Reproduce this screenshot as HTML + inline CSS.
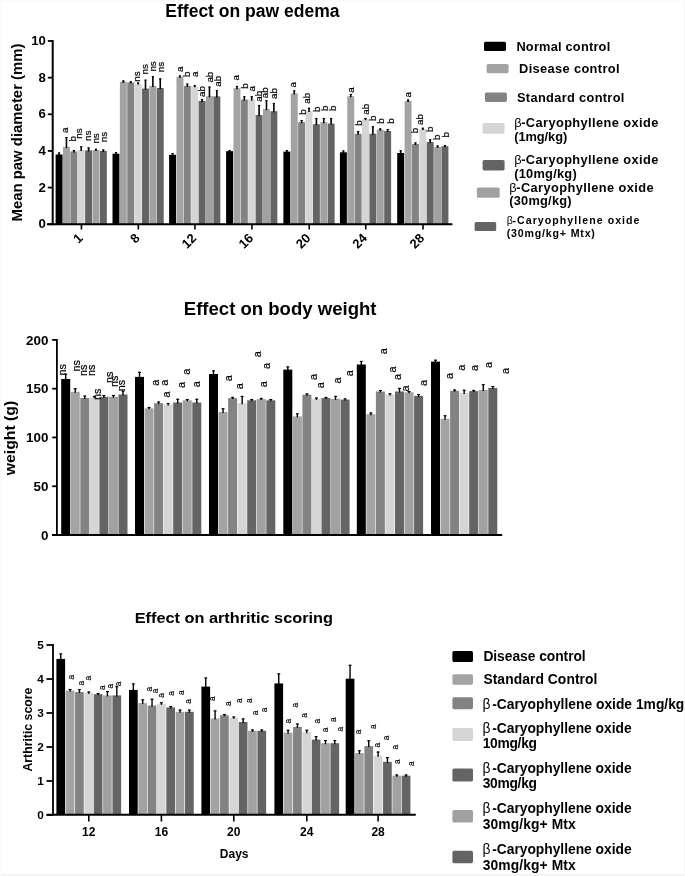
<!DOCTYPE html>
<html><head><meta charset="utf-8"><title>Charts</title>
<style>
html,body{margin:0;padding:0;background:#fff;}
body{width:685px;height:876px;overflow:hidden;position:relative;}
svg{display:block;filter:blur(0.45px);position:absolute;left:0;top:0;}
text{font-family:"Liberation Sans", sans-serif;fill:#000;}
</style></head>
<body>
<svg width="685" height="876" viewBox="0 0 685 876">
<rect x="0" y="0" width="685" height="876" fill="#fff"/>
<rect x="0" y="873.6" width="685" height="2.4" fill="#f4f4f4"/>
<rect x="0" y="0" width="1.6" height="876" fill="#f9f9f9"/>
<rect x="0" y="0" width="685" height="1.5" fill="#fafafa"/>
<rect x="683.6" y="0" width="1.4" height="876" fill="#f7f7f7"/>
<rect x="55.60" y="154.50" width="6.95" height="69.70" fill="#000000"/>
<rect x="62.98" y="146.90" width="6.95" height="77.30" fill="#a3a3a3"/>
<rect x="70.36" y="151.40" width="6.95" height="72.80" fill="#838383"/>
<rect x="77.74" y="150.00" width="6.95" height="74.20" fill="#d5d5d5"/>
<rect x="85.12" y="150.40" width="6.95" height="73.80" fill="#646464"/>
<rect x="92.50" y="150.00" width="6.95" height="74.20" fill="#a1a1a1"/>
<rect x="99.88" y="151.00" width="6.95" height="73.20" fill="#646464"/>
<rect x="112.50" y="153.70" width="6.95" height="70.50" fill="#000000"/>
<rect x="119.88" y="81.80" width="6.95" height="142.40" fill="#a3a3a3"/>
<rect x="127.26" y="82.50" width="6.95" height="141.70" fill="#838383"/>
<rect x="134.64" y="83.60" width="6.95" height="140.60" fill="#d5d5d5"/>
<rect x="142.02" y="88.60" width="6.95" height="135.60" fill="#646464"/>
<rect x="149.40" y="85.90" width="6.95" height="138.30" fill="#a1a1a1"/>
<rect x="156.78" y="88.00" width="6.95" height="136.20" fill="#646464"/>
<rect x="169.10" y="154.80" width="6.95" height="69.40" fill="#000000"/>
<rect x="176.48" y="76.70" width="6.95" height="147.50" fill="#a3a3a3"/>
<rect x="183.86" y="85.90" width="6.95" height="138.30" fill="#838383"/>
<rect x="191.24" y="86.30" width="6.95" height="137.90" fill="#d5d5d5"/>
<rect x="198.62" y="101.00" width="6.95" height="123.20" fill="#646464"/>
<rect x="206.00" y="96.20" width="6.95" height="128.00" fill="#a1a1a1"/>
<rect x="213.38" y="96.40" width="6.95" height="127.80" fill="#646464"/>
<rect x="226.10" y="151.20" width="6.95" height="73.00" fill="#000000"/>
<rect x="233.48" y="88.20" width="6.95" height="136.00" fill="#a3a3a3"/>
<rect x="240.86" y="99.60" width="6.95" height="124.60" fill="#838383"/>
<rect x="248.24" y="99.60" width="6.95" height="124.60" fill="#d5d5d5"/>
<rect x="255.62" y="115.00" width="6.95" height="109.20" fill="#646464"/>
<rect x="263.00" y="109.20" width="6.95" height="115.00" fill="#a1a1a1"/>
<rect x="270.38" y="111.20" width="6.95" height="113.00" fill="#646464"/>
<rect x="283.40" y="151.60" width="6.95" height="72.60" fill="#000000"/>
<rect x="290.78" y="93.40" width="6.95" height="130.80" fill="#a3a3a3"/>
<rect x="298.16" y="122.20" width="6.95" height="102.00" fill="#838383"/>
<rect x="305.54" y="111.00" width="6.95" height="113.20" fill="#d5d5d5"/>
<rect x="312.92" y="124.20" width="6.95" height="100.00" fill="#646464"/>
<rect x="320.30" y="122.20" width="6.95" height="102.00" fill="#a1a1a1"/>
<rect x="327.68" y="123.60" width="6.95" height="100.60" fill="#646464"/>
<rect x="339.90" y="152.30" width="6.95" height="71.90" fill="#000000"/>
<rect x="347.28" y="96.20" width="6.95" height="128.00" fill="#a3a3a3"/>
<rect x="354.66" y="133.80" width="6.95" height="90.40" fill="#838383"/>
<rect x="362.04" y="119.20" width="6.95" height="105.00" fill="#d5d5d5"/>
<rect x="369.42" y="133.80" width="6.95" height="90.40" fill="#646464"/>
<rect x="376.80" y="129.70" width="6.95" height="94.50" fill="#a1a1a1"/>
<rect x="384.18" y="131.00" width="6.95" height="93.20" fill="#646464"/>
<rect x="397.20" y="153.00" width="6.95" height="71.20" fill="#000000"/>
<rect x="404.58" y="101.00" width="6.95" height="123.20" fill="#a3a3a3"/>
<rect x="411.96" y="144.00" width="6.95" height="80.20" fill="#838383"/>
<rect x="419.34" y="129.00" width="6.95" height="95.20" fill="#d5d5d5"/>
<rect x="426.72" y="142.00" width="6.95" height="82.20" fill="#646464"/>
<rect x="434.10" y="146.80" width="6.95" height="77.40" fill="#a1a1a1"/>
<rect x="441.48" y="146.20" width="6.95" height="78.00" fill="#646464"/>
<line x1="59.08" y1="155.50" x2="59.08" y2="152.50" stroke="#000" stroke-width="1.6"/>
<line x1="57.98" y1="153.00" x2="60.18" y2="153.00" stroke="#000" stroke-width="1.1"/>
<line x1="66.45" y1="147.90" x2="66.45" y2="137.00" stroke="#000" stroke-width="1.6"/>
<line x1="65.36" y1="137.50" x2="67.55" y2="137.50" stroke="#000" stroke-width="1.1"/>
<line x1="73.83" y1="152.40" x2="73.83" y2="150.00" stroke="#000" stroke-width="1.6"/>
<line x1="72.73" y1="150.50" x2="74.93" y2="150.50" stroke="#000" stroke-width="1.1"/>
<line x1="81.22" y1="151.00" x2="81.22" y2="146.30" stroke="#000" stroke-width="1.6"/>
<line x1="80.12" y1="146.80" x2="82.31" y2="146.80" stroke="#000" stroke-width="1.1"/>
<line x1="88.59" y1="151.40" x2="88.59" y2="147.50" stroke="#000" stroke-width="1.6"/>
<line x1="87.50" y1="148.00" x2="89.69" y2="148.00" stroke="#000" stroke-width="1.1"/>
<line x1="95.97" y1="151.00" x2="95.97" y2="148.80" stroke="#000" stroke-width="1.6"/>
<line x1="94.88" y1="149.30" x2="97.07" y2="149.30" stroke="#000" stroke-width="1.1"/>
<line x1="103.35" y1="152.00" x2="103.35" y2="149.50" stroke="#000" stroke-width="1.6"/>
<line x1="102.25" y1="150.00" x2="104.45" y2="150.00" stroke="#000" stroke-width="1.1"/>
<line x1="115.97" y1="154.70" x2="115.97" y2="152.00" stroke="#000" stroke-width="1.6"/>
<line x1="114.88" y1="152.50" x2="117.07" y2="152.50" stroke="#000" stroke-width="1.1"/>
<line x1="123.35" y1="82.80" x2="123.35" y2="80.50" stroke="#000" stroke-width="1.6"/>
<line x1="122.25" y1="81.00" x2="124.45" y2="81.00" stroke="#000" stroke-width="1.1"/>
<line x1="130.74" y1="83.50" x2="130.74" y2="81.30" stroke="#000" stroke-width="1.6"/>
<line x1="129.64" y1="81.80" x2="131.84" y2="81.80" stroke="#000" stroke-width="1.1"/>
<line x1="138.11" y1="84.60" x2="138.11" y2="82.40" stroke="#000" stroke-width="1.6"/>
<line x1="137.01" y1="82.90" x2="139.21" y2="82.90" stroke="#000" stroke-width="1.1"/>
<line x1="145.50" y1="89.60" x2="145.50" y2="79.70" stroke="#000" stroke-width="1.6"/>
<line x1="144.40" y1="80.20" x2="146.59" y2="80.20" stroke="#000" stroke-width="1.1"/>
<line x1="152.88" y1="86.90" x2="152.88" y2="76.30" stroke="#000" stroke-width="1.6"/>
<line x1="151.78" y1="76.80" x2="153.97" y2="76.80" stroke="#000" stroke-width="1.1"/>
<line x1="160.25" y1="89.00" x2="160.25" y2="78.40" stroke="#000" stroke-width="1.6"/>
<line x1="159.16" y1="78.90" x2="161.35" y2="78.90" stroke="#000" stroke-width="1.1"/>
<line x1="172.57" y1="155.80" x2="172.57" y2="153.00" stroke="#000" stroke-width="1.6"/>
<line x1="171.47" y1="153.50" x2="173.67" y2="153.50" stroke="#000" stroke-width="1.1"/>
<line x1="179.95" y1="77.70" x2="179.95" y2="75.50" stroke="#000" stroke-width="1.6"/>
<line x1="178.85" y1="76.00" x2="181.05" y2="76.00" stroke="#000" stroke-width="1.1"/>
<line x1="187.33" y1="86.90" x2="187.33" y2="83.60" stroke="#000" stroke-width="1.6"/>
<line x1="186.23" y1="84.10" x2="188.43" y2="84.10" stroke="#000" stroke-width="1.1"/>
<line x1="194.72" y1="87.30" x2="194.72" y2="85.00" stroke="#000" stroke-width="1.6"/>
<line x1="193.62" y1="85.50" x2="195.81" y2="85.50" stroke="#000" stroke-width="1.1"/>
<line x1="202.09" y1="102.00" x2="202.09" y2="99.00" stroke="#000" stroke-width="1.6"/>
<line x1="201.00" y1="99.50" x2="203.19" y2="99.50" stroke="#000" stroke-width="1.1"/>
<line x1="209.47" y1="97.20" x2="209.47" y2="86.60" stroke="#000" stroke-width="1.6"/>
<line x1="208.38" y1="87.10" x2="210.57" y2="87.10" stroke="#000" stroke-width="1.1"/>
<line x1="216.85" y1="97.40" x2="216.85" y2="90.00" stroke="#000" stroke-width="1.6"/>
<line x1="215.75" y1="90.50" x2="217.95" y2="90.50" stroke="#000" stroke-width="1.1"/>
<line x1="229.57" y1="152.20" x2="229.57" y2="150.00" stroke="#000" stroke-width="1.6"/>
<line x1="228.47" y1="150.50" x2="230.67" y2="150.50" stroke="#000" stroke-width="1.1"/>
<line x1="236.95" y1="89.20" x2="236.95" y2="85.90" stroke="#000" stroke-width="1.6"/>
<line x1="235.85" y1="86.40" x2="238.05" y2="86.40" stroke="#000" stroke-width="1.1"/>
<line x1="244.33" y1="100.60" x2="244.33" y2="96.20" stroke="#000" stroke-width="1.6"/>
<line x1="243.23" y1="96.70" x2="245.43" y2="96.70" stroke="#000" stroke-width="1.1"/>
<line x1="251.72" y1="100.60" x2="251.72" y2="96.20" stroke="#000" stroke-width="1.6"/>
<line x1="250.62" y1="96.70" x2="252.81" y2="96.70" stroke="#000" stroke-width="1.1"/>
<line x1="259.10" y1="116.00" x2="259.10" y2="105.00" stroke="#000" stroke-width="1.6"/>
<line x1="258.00" y1="105.50" x2="260.20" y2="105.50" stroke="#000" stroke-width="1.1"/>
<line x1="266.48" y1="110.20" x2="266.48" y2="100.30" stroke="#000" stroke-width="1.6"/>
<line x1="265.38" y1="100.80" x2="267.58" y2="100.80" stroke="#000" stroke-width="1.1"/>
<line x1="273.86" y1="112.20" x2="273.86" y2="103.00" stroke="#000" stroke-width="1.6"/>
<line x1="272.75" y1="103.50" x2="274.96" y2="103.50" stroke="#000" stroke-width="1.1"/>
<line x1="286.88" y1="152.60" x2="286.88" y2="150.00" stroke="#000" stroke-width="1.6"/>
<line x1="285.77" y1="150.50" x2="287.98" y2="150.50" stroke="#000" stroke-width="1.1"/>
<line x1="294.25" y1="94.40" x2="294.25" y2="90.40" stroke="#000" stroke-width="1.6"/>
<line x1="293.15" y1="90.90" x2="295.36" y2="90.90" stroke="#000" stroke-width="1.1"/>
<line x1="301.63" y1="123.20" x2="301.63" y2="120.00" stroke="#000" stroke-width="1.6"/>
<line x1="300.53" y1="120.50" x2="302.74" y2="120.50" stroke="#000" stroke-width="1.1"/>
<line x1="309.01" y1="112.00" x2="309.01" y2="107.80" stroke="#000" stroke-width="1.6"/>
<line x1="307.91" y1="108.30" x2="310.12" y2="108.30" stroke="#000" stroke-width="1.1"/>
<line x1="316.39" y1="125.20" x2="316.39" y2="118.00" stroke="#000" stroke-width="1.6"/>
<line x1="315.29" y1="118.50" x2="317.50" y2="118.50" stroke="#000" stroke-width="1.1"/>
<line x1="323.77" y1="123.20" x2="323.77" y2="118.00" stroke="#000" stroke-width="1.6"/>
<line x1="322.67" y1="118.50" x2="324.88" y2="118.50" stroke="#000" stroke-width="1.1"/>
<line x1="331.15" y1="124.60" x2="331.15" y2="118.00" stroke="#000" stroke-width="1.6"/>
<line x1="330.05" y1="118.50" x2="332.25" y2="118.50" stroke="#000" stroke-width="1.1"/>
<line x1="343.38" y1="153.30" x2="343.38" y2="150.50" stroke="#000" stroke-width="1.6"/>
<line x1="342.27" y1="151.00" x2="344.48" y2="151.00" stroke="#000" stroke-width="1.1"/>
<line x1="350.75" y1="97.20" x2="350.75" y2="94.00" stroke="#000" stroke-width="1.6"/>
<line x1="349.65" y1="94.50" x2="351.86" y2="94.50" stroke="#000" stroke-width="1.1"/>
<line x1="358.13" y1="134.80" x2="358.13" y2="131.00" stroke="#000" stroke-width="1.6"/>
<line x1="357.03" y1="131.50" x2="359.24" y2="131.50" stroke="#000" stroke-width="1.1"/>
<line x1="365.51" y1="120.20" x2="365.51" y2="118.00" stroke="#000" stroke-width="1.6"/>
<line x1="364.41" y1="118.50" x2="366.62" y2="118.50" stroke="#000" stroke-width="1.1"/>
<line x1="372.89" y1="134.80" x2="372.89" y2="126.30" stroke="#000" stroke-width="1.6"/>
<line x1="371.79" y1="126.80" x2="374.00" y2="126.80" stroke="#000" stroke-width="1.1"/>
<line x1="380.27" y1="130.70" x2="380.27" y2="128.40" stroke="#000" stroke-width="1.6"/>
<line x1="379.17" y1="128.90" x2="381.38" y2="128.90" stroke="#000" stroke-width="1.1"/>
<line x1="387.65" y1="132.00" x2="387.65" y2="129.00" stroke="#000" stroke-width="1.6"/>
<line x1="386.55" y1="129.50" x2="388.75" y2="129.50" stroke="#000" stroke-width="1.1"/>
<line x1="400.68" y1="154.00" x2="400.68" y2="150.30" stroke="#000" stroke-width="1.6"/>
<line x1="399.57" y1="150.80" x2="401.78" y2="150.80" stroke="#000" stroke-width="1.1"/>
<line x1="408.06" y1="102.00" x2="408.06" y2="99.50" stroke="#000" stroke-width="1.6"/>
<line x1="406.95" y1="100.00" x2="409.16" y2="100.00" stroke="#000" stroke-width="1.1"/>
<line x1="415.44" y1="145.00" x2="415.44" y2="142.50" stroke="#000" stroke-width="1.6"/>
<line x1="414.33" y1="143.00" x2="416.54" y2="143.00" stroke="#000" stroke-width="1.1"/>
<line x1="422.81" y1="130.00" x2="422.81" y2="127.80" stroke="#000" stroke-width="1.6"/>
<line x1="421.71" y1="128.30" x2="423.92" y2="128.30" stroke="#000" stroke-width="1.1"/>
<line x1="430.19" y1="143.00" x2="430.19" y2="139.30" stroke="#000" stroke-width="1.6"/>
<line x1="429.09" y1="139.80" x2="431.30" y2="139.80" stroke="#000" stroke-width="1.1"/>
<line x1="437.57" y1="147.80" x2="437.57" y2="145.50" stroke="#000" stroke-width="1.6"/>
<line x1="436.47" y1="146.00" x2="438.68" y2="146.00" stroke="#000" stroke-width="1.1"/>
<line x1="444.96" y1="147.20" x2="444.96" y2="145.00" stroke="#000" stroke-width="1.6"/>
<line x1="443.86" y1="145.50" x2="446.06" y2="145.50" stroke="#000" stroke-width="1.1"/>
<line x1="52.7" y1="40" x2="52.7" y2="225.2" stroke="#000" stroke-width="2"/>
<line x1="47" y1="224.2" x2="452.4" y2="224.2" stroke="#000" stroke-width="2"/>
<line x1="47.8" y1="224.20" x2="52.7" y2="224.20" stroke="#000" stroke-width="1.8"/>
<text x="45.8" y="228.40" font-size="13.2" font-weight="bold" text-anchor="end">0</text>
<line x1="47.8" y1="187.56" x2="52.7" y2="187.56" stroke="#000" stroke-width="1.8"/>
<text x="45.8" y="191.76" font-size="13.2" font-weight="bold" text-anchor="end">2</text>
<line x1="47.8" y1="150.92" x2="52.7" y2="150.92" stroke="#000" stroke-width="1.8"/>
<text x="45.8" y="155.12" font-size="13.2" font-weight="bold" text-anchor="end">4</text>
<line x1="47.8" y1="114.28" x2="52.7" y2="114.28" stroke="#000" stroke-width="1.8"/>
<text x="45.8" y="118.48" font-size="13.2" font-weight="bold" text-anchor="end">6</text>
<line x1="47.8" y1="77.64" x2="52.7" y2="77.64" stroke="#000" stroke-width="1.8"/>
<text x="45.8" y="81.84" font-size="13.2" font-weight="bold" text-anchor="end">8</text>
<line x1="47.8" y1="41.00" x2="52.7" y2="41.00" stroke="#000" stroke-width="1.8"/>
<text x="45.8" y="45.20" font-size="13.2" font-weight="bold" text-anchor="end">10</text>
<line x1="81.43" y1="224.2" x2="81.43" y2="229.5" stroke="#000" stroke-width="1.6"/>
<text transform="translate(83.63,238.90) rotate(-45)" font-size="13" font-weight="bold" text-anchor="end">1</text>
<line x1="138.33" y1="224.2" x2="138.33" y2="229.5" stroke="#000" stroke-width="1.6"/>
<text transform="translate(140.53,238.90) rotate(-45)" font-size="13" font-weight="bold" text-anchor="end">8</text>
<line x1="194.93" y1="224.2" x2="194.93" y2="229.5" stroke="#000" stroke-width="1.6"/>
<text transform="translate(197.13,238.90) rotate(-45)" font-size="13" font-weight="bold" text-anchor="end">12</text>
<line x1="251.93" y1="224.2" x2="251.93" y2="229.5" stroke="#000" stroke-width="1.6"/>
<text transform="translate(254.13,238.90) rotate(-45)" font-size="13" font-weight="bold" text-anchor="end">16</text>
<line x1="309.23" y1="224.2" x2="309.23" y2="229.5" stroke="#000" stroke-width="1.6"/>
<text transform="translate(311.43,238.90) rotate(-45)" font-size="13" font-weight="bold" text-anchor="end">20</text>
<line x1="365.73" y1="224.2" x2="365.73" y2="229.5" stroke="#000" stroke-width="1.6"/>
<text transform="translate(367.93,238.90) rotate(-45)" font-size="13" font-weight="bold" text-anchor="end">24</text>
<line x1="423.03" y1="224.2" x2="423.03" y2="229.5" stroke="#000" stroke-width="1.6"/>
<text transform="translate(425.23,238.90) rotate(-45)" font-size="13" font-weight="bold" text-anchor="end">28</text>
<text x="165.3" y="16.9" font-size="17.5" font-weight="bold" text-anchor="start" textLength="174.2" lengthAdjust="spacingAndGlyphs">Effect on paw edema</text>
<text transform="translate(21.5,221.5) rotate(-90)" font-size="15" font-weight="bold" textLength="178" lengthAdjust="spacingAndGlyphs">Mean paw diameter (mm)</text>
<text transform="translate(68.40,133.10) rotate(-90)" font-size="9.8" font-weight="normal" stroke="#000" stroke-width="0.2">a</text>
<text transform="translate(75.80,141.40) rotate(-90)" font-size="9.8" font-weight="normal" stroke="#000" stroke-width="0.2">b</text>
<text transform="translate(81.90,138.80) rotate(-90)" font-size="9.8" font-weight="normal" stroke="#000" stroke-width="0.2">ns</text>
<text transform="translate(91.10,141.00) rotate(-90)" font-size="9.8" font-weight="normal" stroke="#000" stroke-width="0.2">ns</text>
<text transform="translate(98.60,143.60) rotate(-90)" font-size="9.8" font-weight="normal" stroke="#000" stroke-width="0.2">ns</text>
<text transform="translate(106.50,142.30) rotate(-90)" font-size="9.8" font-weight="normal" stroke="#000" stroke-width="0.2">ns</text>
<text transform="translate(140.40,81.80) rotate(-90)" font-size="9.8" font-weight="normal" stroke="#000" stroke-width="0.2">ns</text>
<text transform="translate(147.50,74.40) rotate(-90)" font-size="9.8" font-weight="normal" stroke="#000" stroke-width="0.2">ns</text>
<text transform="translate(156.20,71.60) rotate(-90)" font-size="9.8" font-weight="normal" stroke="#000" stroke-width="0.2">ns</text>
<text transform="translate(163.70,72.30) rotate(-90)" font-size="9.8" font-weight="normal" stroke="#000" stroke-width="0.2">ns</text>
<text transform="translate(182.60,72.00) rotate(-90)" font-size="9.8" font-weight="normal" stroke="#000" stroke-width="0.2">a</text>
<text transform="translate(189.50,77.10) rotate(-90)" font-size="9.8" font-weight="normal" stroke="#000" stroke-width="0.2">b</text>
<text transform="translate(198.40,77.10) rotate(-90)" font-size="9.8" font-weight="normal" stroke="#000" stroke-width="0.2">a</text>
<text transform="translate(205.20,97.00) rotate(-90)" font-size="9.8" font-weight="normal" stroke="#000" stroke-width="0.2">ab</text>
<text transform="translate(212.70,82.60) rotate(-90)" font-size="9.8" font-weight="normal" stroke="#000" stroke-width="0.2">ab</text>
<text transform="translate(221.00,86.70) rotate(-90)" font-size="9.8" font-weight="normal" stroke="#000" stroke-width="0.2">ab</text>
<text transform="translate(238.90,80.50) rotate(-90)" font-size="9.8" font-weight="normal" stroke="#000" stroke-width="0.2">a</text>
<text transform="translate(247.80,88.80) rotate(-90)" font-size="9.8" font-weight="normal" stroke="#000" stroke-width="0.2">b</text>
<text transform="translate(254.70,91.50) rotate(-90)" font-size="9.8" font-weight="normal" stroke="#000" stroke-width="0.2">a</text>
<text transform="translate(262.20,101.80) rotate(-90)" font-size="9.8" font-weight="normal" stroke="#000" stroke-width="0.2">ab</text>
<text transform="translate(268.40,98.30) rotate(-90)" font-size="9.8" font-weight="normal" stroke="#000" stroke-width="0.2">ab</text>
<text transform="translate(277.30,99.00) rotate(-90)" font-size="9.8" font-weight="normal" stroke="#000" stroke-width="0.2">ab</text>
<text transform="translate(295.90,87.40) rotate(-90)" font-size="9.8" font-weight="normal" stroke="#000" stroke-width="0.2">a</text>
<text transform="translate(305.50,114.80) rotate(-90)" font-size="9.8" font-weight="normal" stroke="#000" stroke-width="0.2">b</text>
<text transform="translate(309.60,103.80) rotate(-90)" font-size="9.8" font-weight="normal" stroke="#000" stroke-width="0.2">ab</text>
<text transform="translate(319.90,112.00) rotate(-90)" font-size="9.8" font-weight="normal" stroke="#000" stroke-width="0.2">b</text>
<text transform="translate(328.10,110.90) rotate(-90)" font-size="9.8" font-weight="normal" stroke="#000" stroke-width="0.2">b</text>
<text transform="translate(335.60,110.90) rotate(-90)" font-size="9.8" font-weight="normal" stroke="#000" stroke-width="0.2">b</text>
<text transform="translate(354.30,92.80) rotate(-90)" font-size="9.8" font-weight="normal" stroke="#000" stroke-width="0.2">a</text>
<text transform="translate(361.80,125.70) rotate(-90)" font-size="9.8" font-weight="normal" stroke="#000" stroke-width="0.2">b</text>
<text transform="translate(368.70,114.80) rotate(-90)" font-size="9.8" font-weight="normal" stroke="#000" stroke-width="0.2">ab</text>
<text transform="translate(376.20,120.90) rotate(-90)" font-size="9.8" font-weight="normal" stroke="#000" stroke-width="0.2">b</text>
<text transform="translate(383.80,123.70) rotate(-90)" font-size="9.8" font-weight="normal" stroke="#000" stroke-width="0.2">b</text>
<text transform="translate(394.00,123.70) rotate(-90)" font-size="9.8" font-weight="normal" stroke="#000" stroke-width="0.2">b</text>
<text transform="translate(411.00,97.60) rotate(-90)" font-size="9.8" font-weight="normal" stroke="#000" stroke-width="0.2">a</text>
<text transform="translate(417.80,133.30) rotate(-90)" font-size="9.8" font-weight="normal" stroke="#000" stroke-width="0.2">b</text>
<text transform="translate(422.60,125.00) rotate(-90)" font-size="9.8" font-weight="normal" stroke="#000" stroke-width="0.2">ab</text>
<text transform="translate(432.90,131.90) rotate(-90)" font-size="9.8" font-weight="normal" stroke="#000" stroke-width="0.2">b</text>
<text transform="translate(440.40,140.10) rotate(-90)" font-size="9.8" font-weight="normal" stroke="#000" stroke-width="0.2">b</text>
<text transform="translate(449.30,137.40) rotate(-90)" font-size="9.8" font-weight="normal" stroke="#000" stroke-width="0.2">b</text>
<rect x="484" y="41.7" width="22" height="9.4" rx="1.6" fill="#000000"/>
<text x="516.4" y="51.1" font-size="12.8" font-weight="bold" textLength="93.8" lengthAdjust="spacing">Normal control</text>
<rect x="486.6" y="63.9" width="22" height="9.3" rx="1.6" fill="#a3a3a3"/>
<text x="519.1" y="73.2" font-size="12.8" font-weight="bold" textLength="100.4" lengthAdjust="spacing">Disease control</text>
<rect x="484.9" y="92.5" width="22" height="9.4" rx="1.6" fill="#838383"/>
<text x="517" y="101.6" font-size="12.8" font-weight="bold" textLength="107.4" lengthAdjust="spacing">Standard control</text>
<rect x="482.6" y="123.1" width="22" height="10.6" rx="1.6" fill="#d5d5d5"/>
<text x="514.2" y="127" font-family='"Liberation Serif", serif' font-size="12.80">&#946;</text>
<text x="521.20" y="127" font-size="12.8" font-weight="bold" textLength="137.10" lengthAdjust="spacing">-Caryophyllene oxide</text>
<text x="514.2" y="141.2" font-size="12.8" font-weight="bold" textLength="53" lengthAdjust="spacing">(1mg/kg)</text>
<rect x="482.6" y="159.9" width="22" height="10.5" rx="1.6" fill="#646464"/>
<text x="514.2" y="164" font-family='"Liberation Serif", serif' font-size="12.80">&#946;</text>
<text x="521.20" y="164" font-size="12.8" font-weight="bold" textLength="137.10" lengthAdjust="spacing">-Caryophyllene oxide</text>
<text x="514.2" y="177.6" font-size="12.8" font-weight="bold" textLength="62.5" lengthAdjust="spacing">(10mg/kg)</text>
<rect x="476.9" y="187.6" width="22.8" height="10.2" rx="1.6" fill="#a1a1a1"/>
<text x="509.2" y="191.6" font-family='"Liberation Serif", serif' font-size="12.80">&#946;</text>
<text x="516.20" y="191.6" font-size="12.8" font-weight="bold" textLength="137.40" lengthAdjust="spacing">-Caryophyllene oxide</text>
<text x="509.2" y="204.8" font-size="12.8" font-weight="bold" textLength="62.4" lengthAdjust="spacing">(30mg/kg)</text>
<rect x="474.6" y="222" width="21.6" height="9.1" rx="1.6" fill="#646464"/>
<text x="506.7" y="224.1" font-family='"Liberation Serif", serif' font-size="10.60">&#946;</text>
<text x="512.50" y="224.1" font-size="10.6" font-weight="bold" textLength="127.00" lengthAdjust="spacing">-Caryophyllene oxide</text>
<text x="506.7" y="237.2" font-size="10.6" font-weight="bold" textLength="88.2" lengthAdjust="spacing">(30mg/kg+ Mtx)</text>
<rect x="61.20" y="379.00" width="9.00" height="156.00" fill="#000000"/>
<rect x="70.75" y="391.80" width="9.00" height="143.20" fill="#a3a3a3"/>
<rect x="80.30" y="398.00" width="9.00" height="137.00" fill="#838383"/>
<rect x="89.85" y="397.30" width="9.00" height="137.70" fill="#d5d5d5"/>
<rect x="99.40" y="396.80" width="9.00" height="138.20" fill="#646464"/>
<rect x="108.95" y="396.80" width="9.00" height="138.20" fill="#a1a1a1"/>
<rect x="118.50" y="394.50" width="9.00" height="140.50" fill="#646464"/>
<rect x="135.00" y="376.90" width="9.00" height="158.10" fill="#000000"/>
<rect x="144.55" y="408.30" width="9.00" height="126.70" fill="#a3a3a3"/>
<rect x="154.10" y="403.20" width="9.00" height="131.80" fill="#838383"/>
<rect x="163.65" y="404.40" width="9.00" height="130.60" fill="#d5d5d5"/>
<rect x="173.20" y="402.50" width="9.00" height="132.50" fill="#646464"/>
<rect x="182.75" y="400.30" width="9.00" height="134.70" fill="#a1a1a1"/>
<rect x="192.30" y="402.50" width="9.00" height="132.50" fill="#646464"/>
<rect x="209.00" y="374.00" width="9.00" height="161.00" fill="#000000"/>
<rect x="218.55" y="412.00" width="9.00" height="123.00" fill="#a3a3a3"/>
<rect x="228.10" y="398.10" width="9.00" height="136.90" fill="#838383"/>
<rect x="237.65" y="403.20" width="9.00" height="131.80" fill="#d5d5d5"/>
<rect x="247.20" y="400.30" width="9.00" height="134.70" fill="#646464"/>
<rect x="256.75" y="399.10" width="9.00" height="135.90" fill="#a1a1a1"/>
<rect x="266.30" y="400.30" width="9.00" height="134.70" fill="#646464"/>
<rect x="283.30" y="369.60" width="9.00" height="165.40" fill="#000000"/>
<rect x="292.85" y="416.40" width="9.00" height="118.60" fill="#a3a3a3"/>
<rect x="302.40" y="394.70" width="9.00" height="140.30" fill="#838383"/>
<rect x="311.95" y="398.80" width="9.00" height="136.20" fill="#d5d5d5"/>
<rect x="321.50" y="398.10" width="9.00" height="136.90" fill="#646464"/>
<rect x="331.05" y="398.80" width="9.00" height="136.20" fill="#a1a1a1"/>
<rect x="340.60" y="399.60" width="9.00" height="135.40" fill="#646464"/>
<rect x="356.80" y="364.50" width="9.00" height="170.50" fill="#000000"/>
<rect x="366.35" y="414.20" width="9.00" height="120.80" fill="#a3a3a3"/>
<rect x="375.90" y="391.50" width="9.00" height="143.50" fill="#838383"/>
<rect x="385.45" y="394.50" width="9.00" height="140.50" fill="#d5d5d5"/>
<rect x="395.00" y="391.50" width="9.00" height="143.50" fill="#646464"/>
<rect x="404.55" y="392.30" width="9.00" height="142.70" fill="#a1a1a1"/>
<rect x="414.10" y="395.90" width="9.00" height="139.10" fill="#646464"/>
<rect x="431.00" y="361.60" width="9.00" height="173.40" fill="#000000"/>
<rect x="440.55" y="418.80" width="9.00" height="116.20" fill="#a3a3a3"/>
<rect x="450.10" y="390.80" width="9.00" height="144.20" fill="#838383"/>
<rect x="459.65" y="393.00" width="9.00" height="142.00" fill="#d5d5d5"/>
<rect x="469.20" y="391.10" width="9.00" height="143.90" fill="#646464"/>
<rect x="478.75" y="390.00" width="9.00" height="145.00" fill="#a1a1a1"/>
<rect x="488.30" y="387.90" width="9.00" height="147.10" fill="#646464"/>
<line x1="65.70" y1="380.00" x2="65.70" y2="373.70" stroke="#000" stroke-width="1.4"/>
<line x1="64.20" y1="374.20" x2="67.20" y2="374.20" stroke="#000" stroke-width="1.1"/>
<line x1="75.25" y1="392.80" x2="75.25" y2="388.30" stroke="#000" stroke-width="1.4"/>
<line x1="73.75" y1="388.80" x2="76.75" y2="388.80" stroke="#000" stroke-width="1.1"/>
<line x1="84.80" y1="399.00" x2="84.80" y2="395.60" stroke="#000" stroke-width="1.4"/>
<line x1="83.30" y1="396.10" x2="86.30" y2="396.10" stroke="#000" stroke-width="1.1"/>
<line x1="94.35" y1="398.30" x2="94.35" y2="395.90" stroke="#000" stroke-width="1.4"/>
<line x1="92.85" y1="396.40" x2="95.85" y2="396.40" stroke="#000" stroke-width="1.1"/>
<line x1="103.90" y1="397.80" x2="103.90" y2="395.00" stroke="#000" stroke-width="1.4"/>
<line x1="102.40" y1="395.50" x2="105.40" y2="395.50" stroke="#000" stroke-width="1.1"/>
<line x1="113.45" y1="397.80" x2="113.45" y2="395.00" stroke="#000" stroke-width="1.4"/>
<line x1="111.95" y1="395.50" x2="114.95" y2="395.50" stroke="#000" stroke-width="1.1"/>
<line x1="123.00" y1="395.50" x2="123.00" y2="390.60" stroke="#000" stroke-width="1.4"/>
<line x1="121.50" y1="391.10" x2="124.50" y2="391.10" stroke="#000" stroke-width="1.1"/>
<line x1="139.50" y1="377.90" x2="139.50" y2="371.80" stroke="#000" stroke-width="1.4"/>
<line x1="138.00" y1="372.30" x2="141.00" y2="372.30" stroke="#000" stroke-width="1.1"/>
<line x1="149.05" y1="409.30" x2="149.05" y2="407.00" stroke="#000" stroke-width="1.4"/>
<line x1="147.55" y1="407.50" x2="150.55" y2="407.50" stroke="#000" stroke-width="1.1"/>
<line x1="158.60" y1="404.20" x2="158.60" y2="401.50" stroke="#000" stroke-width="1.4"/>
<line x1="157.10" y1="402.00" x2="160.10" y2="402.00" stroke="#000" stroke-width="1.1"/>
<line x1="168.15" y1="405.40" x2="168.15" y2="403.00" stroke="#000" stroke-width="1.4"/>
<line x1="166.65" y1="403.50" x2="169.65" y2="403.50" stroke="#000" stroke-width="1.1"/>
<line x1="177.70" y1="403.50" x2="177.70" y2="398.80" stroke="#000" stroke-width="1.4"/>
<line x1="176.20" y1="399.30" x2="179.20" y2="399.30" stroke="#000" stroke-width="1.1"/>
<line x1="187.25" y1="401.30" x2="187.25" y2="399.00" stroke="#000" stroke-width="1.4"/>
<line x1="185.75" y1="399.50" x2="188.75" y2="399.50" stroke="#000" stroke-width="1.1"/>
<line x1="196.80" y1="403.50" x2="196.80" y2="398.80" stroke="#000" stroke-width="1.4"/>
<line x1="195.30" y1="399.30" x2="198.30" y2="399.30" stroke="#000" stroke-width="1.1"/>
<line x1="213.50" y1="375.00" x2="213.50" y2="370.40" stroke="#000" stroke-width="1.4"/>
<line x1="212.00" y1="370.90" x2="215.00" y2="370.90" stroke="#000" stroke-width="1.1"/>
<line x1="223.05" y1="413.00" x2="223.05" y2="408.30" stroke="#000" stroke-width="1.4"/>
<line x1="221.55" y1="408.80" x2="224.55" y2="408.80" stroke="#000" stroke-width="1.1"/>
<line x1="232.60" y1="399.10" x2="232.60" y2="396.90" stroke="#000" stroke-width="1.4"/>
<line x1="231.10" y1="397.40" x2="234.10" y2="397.40" stroke="#000" stroke-width="1.1"/>
<line x1="242.15" y1="404.20" x2="242.15" y2="395.90" stroke="#000" stroke-width="1.4"/>
<line x1="240.65" y1="396.40" x2="243.65" y2="396.40" stroke="#000" stroke-width="1.1"/>
<line x1="251.70" y1="401.30" x2="251.70" y2="399.00" stroke="#000" stroke-width="1.4"/>
<line x1="250.20" y1="399.50" x2="253.20" y2="399.50" stroke="#000" stroke-width="1.1"/>
<line x1="261.25" y1="400.10" x2="261.25" y2="397.90" stroke="#000" stroke-width="1.4"/>
<line x1="259.75" y1="398.40" x2="262.75" y2="398.40" stroke="#000" stroke-width="1.1"/>
<line x1="270.80" y1="401.30" x2="270.80" y2="399.00" stroke="#000" stroke-width="1.4"/>
<line x1="269.30" y1="399.50" x2="272.30" y2="399.50" stroke="#000" stroke-width="1.1"/>
<line x1="287.80" y1="370.60" x2="287.80" y2="366.40" stroke="#000" stroke-width="1.4"/>
<line x1="286.30" y1="366.90" x2="289.30" y2="366.90" stroke="#000" stroke-width="1.1"/>
<line x1="297.35" y1="417.40" x2="297.35" y2="413.40" stroke="#000" stroke-width="1.4"/>
<line x1="295.85" y1="413.90" x2="298.85" y2="413.90" stroke="#000" stroke-width="1.1"/>
<line x1="306.90" y1="395.70" x2="306.90" y2="393.50" stroke="#000" stroke-width="1.4"/>
<line x1="305.40" y1="394.00" x2="308.40" y2="394.00" stroke="#000" stroke-width="1.1"/>
<line x1="316.45" y1="399.80" x2="316.45" y2="397.50" stroke="#000" stroke-width="1.4"/>
<line x1="314.95" y1="398.00" x2="317.95" y2="398.00" stroke="#000" stroke-width="1.1"/>
<line x1="326.00" y1="399.10" x2="326.00" y2="396.90" stroke="#000" stroke-width="1.4"/>
<line x1="324.50" y1="397.40" x2="327.50" y2="397.40" stroke="#000" stroke-width="1.1"/>
<line x1="335.55" y1="399.80" x2="335.55" y2="395.90" stroke="#000" stroke-width="1.4"/>
<line x1="334.05" y1="396.40" x2="337.05" y2="396.40" stroke="#000" stroke-width="1.1"/>
<line x1="345.10" y1="400.60" x2="345.10" y2="398.40" stroke="#000" stroke-width="1.4"/>
<line x1="343.60" y1="398.90" x2="346.60" y2="398.90" stroke="#000" stroke-width="1.1"/>
<line x1="361.30" y1="365.50" x2="361.30" y2="360.90" stroke="#000" stroke-width="1.4"/>
<line x1="359.80" y1="361.40" x2="362.80" y2="361.40" stroke="#000" stroke-width="1.1"/>
<line x1="370.85" y1="415.20" x2="370.85" y2="412.50" stroke="#000" stroke-width="1.4"/>
<line x1="369.35" y1="413.00" x2="372.35" y2="413.00" stroke="#000" stroke-width="1.1"/>
<line x1="380.40" y1="392.50" x2="380.40" y2="390.00" stroke="#000" stroke-width="1.4"/>
<line x1="378.90" y1="390.50" x2="381.90" y2="390.50" stroke="#000" stroke-width="1.1"/>
<line x1="389.95" y1="395.50" x2="389.95" y2="393.30" stroke="#000" stroke-width="1.4"/>
<line x1="388.45" y1="393.80" x2="391.45" y2="393.80" stroke="#000" stroke-width="1.1"/>
<line x1="399.50" y1="392.50" x2="399.50" y2="387.90" stroke="#000" stroke-width="1.4"/>
<line x1="398.00" y1="388.40" x2="401.00" y2="388.40" stroke="#000" stroke-width="1.1"/>
<line x1="409.05" y1="393.30" x2="409.05" y2="391.00" stroke="#000" stroke-width="1.4"/>
<line x1="407.55" y1="391.50" x2="410.55" y2="391.50" stroke="#000" stroke-width="1.1"/>
<line x1="418.60" y1="396.90" x2="418.60" y2="394.00" stroke="#000" stroke-width="1.4"/>
<line x1="417.10" y1="394.50" x2="420.10" y2="394.50" stroke="#000" stroke-width="1.1"/>
<line x1="435.50" y1="362.60" x2="435.50" y2="359.70" stroke="#000" stroke-width="1.4"/>
<line x1="434.00" y1="360.20" x2="437.00" y2="360.20" stroke="#000" stroke-width="1.1"/>
<line x1="445.05" y1="419.80" x2="445.05" y2="415.30" stroke="#000" stroke-width="1.4"/>
<line x1="443.55" y1="415.80" x2="446.55" y2="415.80" stroke="#000" stroke-width="1.1"/>
<line x1="454.60" y1="391.80" x2="454.60" y2="389.50" stroke="#000" stroke-width="1.4"/>
<line x1="453.10" y1="390.00" x2="456.10" y2="390.00" stroke="#000" stroke-width="1.1"/>
<line x1="464.15" y1="394.00" x2="464.15" y2="389.80" stroke="#000" stroke-width="1.4"/>
<line x1="462.65" y1="390.30" x2="465.65" y2="390.30" stroke="#000" stroke-width="1.1"/>
<line x1="473.70" y1="392.10" x2="473.70" y2="389.90" stroke="#000" stroke-width="1.4"/>
<line x1="472.20" y1="390.40" x2="475.20" y2="390.40" stroke="#000" stroke-width="1.1"/>
<line x1="483.25" y1="391.00" x2="483.25" y2="384.20" stroke="#000" stroke-width="1.4"/>
<line x1="481.75" y1="384.70" x2="484.75" y2="384.70" stroke="#000" stroke-width="1.1"/>
<line x1="492.80" y1="388.90" x2="492.80" y2="386.00" stroke="#000" stroke-width="1.4"/>
<line x1="491.30" y1="386.50" x2="494.30" y2="386.50" stroke="#000" stroke-width="1.1"/>
<line x1="56.9" y1="339" x2="56.9" y2="536" stroke="#000" stroke-width="1.8"/>
<line x1="52" y1="535" x2="502.2" y2="535" stroke="#000" stroke-width="2"/>
<line x1="52.2" y1="535.00" x2="56.9" y2="535.00" stroke="#000" stroke-width="1.8"/>
<text x="48.4" y="539.70" font-size="13.4" font-weight="bold" text-anchor="end">0</text>
<line x1="52.2" y1="486.23" x2="56.9" y2="486.23" stroke="#000" stroke-width="1.8"/>
<text x="48.4" y="490.93" font-size="13.4" font-weight="bold" text-anchor="end">50</text>
<line x1="52.2" y1="437.45" x2="56.9" y2="437.45" stroke="#000" stroke-width="1.8"/>
<text x="48.4" y="442.15" font-size="13.4" font-weight="bold" text-anchor="end">100</text>
<line x1="52.2" y1="388.67" x2="56.9" y2="388.67" stroke="#000" stroke-width="1.8"/>
<text x="48.4" y="393.37" font-size="13.4" font-weight="bold" text-anchor="end">150</text>
<line x1="52.2" y1="339.90" x2="56.9" y2="339.90" stroke="#000" stroke-width="1.8"/>
<text x="48.4" y="344.60" font-size="13.4" font-weight="bold" text-anchor="end">200</text>
<text x="183.8" y="315.2" font-size="17.5" font-weight="bold" text-anchor="start" textLength="192.7" lengthAdjust="spacingAndGlyphs">Effect on body weight</text>
<text transform="translate(15.3,475.3) rotate(-90)" font-size="15" font-weight="bold" textLength="74.5" lengthAdjust="spacingAndGlyphs">weight (g)</text>
<text transform="translate(66.10,375.40) rotate(-90)" font-size="10.8" font-weight="normal" stroke="#000" stroke-width="0.2">ns</text>
<text transform="translate(79.60,371.40) rotate(-90)" font-size="10.8" font-weight="normal" stroke="#000" stroke-width="0.2">ns</text>
<text transform="translate(87.10,376.00) rotate(-90)" font-size="10.8" font-weight="normal" stroke="#000" stroke-width="0.2">ns</text>
<text transform="translate(95.30,376.00) rotate(-90)" font-size="10.8" font-weight="normal" stroke="#000" stroke-width="0.2">ns</text>
<text transform="translate(101.10,400.00) rotate(-90)" font-size="10.8" font-weight="normal" stroke="#000" stroke-width="0.2">ns</text>
<text transform="translate(113.40,383.00) rotate(-90)" font-size="10.8" font-weight="normal" stroke="#000" stroke-width="0.2">ns</text>
<text transform="translate(118.00,387.10) rotate(-90)" font-size="10.8" font-weight="normal" stroke="#000" stroke-width="0.2">ns</text>
<text transform="translate(125.10,391.20) rotate(-90)" font-size="10.8" font-weight="normal" stroke="#000" stroke-width="0.2">ns</text>
<text transform="translate(158.70,385.70) rotate(-90)" font-size="10.8" font-weight="normal" stroke="#000" stroke-width="0.2">a</text>
<text transform="translate(167.50,385.70) rotate(-90)" font-size="10.8" font-weight="normal" stroke="#000" stroke-width="0.2">a</text>
<text transform="translate(170.40,397.40) rotate(-90)" font-size="10.8" font-weight="normal" stroke="#000" stroke-width="0.2">a</text>
<text transform="translate(185.00,387.90) rotate(-90)" font-size="10.8" font-weight="normal" stroke="#000" stroke-width="0.2">a</text>
<text transform="translate(190.10,374.70) rotate(-90)" font-size="10.8" font-weight="normal" stroke="#000" stroke-width="0.2">a</text>
<text transform="translate(200.30,387.20) rotate(-90)" font-size="10.8" font-weight="normal" stroke="#000" stroke-width="0.2">a</text>
<text transform="translate(232.20,381.30) rotate(-90)" font-size="10.8" font-weight="normal" stroke="#000" stroke-width="0.2">a</text>
<text transform="translate(243.20,389.30) rotate(-90)" font-size="10.8" font-weight="normal" stroke="#000" stroke-width="0.2">a</text>
<text transform="translate(260.70,357.20) rotate(-90)" font-size="10.8" font-weight="normal" stroke="#000" stroke-width="0.2">a</text>
<text transform="translate(269.50,368.90) rotate(-90)" font-size="10.8" font-weight="normal" stroke="#000" stroke-width="0.2">a</text>
<text transform="translate(267.30,387.20) rotate(-90)" font-size="10.8" font-weight="normal" stroke="#000" stroke-width="0.2">a</text>
<text transform="translate(316.70,380.10) rotate(-90)" font-size="10.8" font-weight="normal" stroke="#000" stroke-width="0.2">a</text>
<text transform="translate(324.00,388.30) rotate(-90)" font-size="10.8" font-weight="normal" stroke="#000" stroke-width="0.2">a</text>
<text transform="translate(341.30,383.50) rotate(-90)" font-size="10.8" font-weight="normal" stroke="#000" stroke-width="0.2">a</text>
<text transform="translate(352.50,376.20) rotate(-90)" font-size="10.8" font-weight="normal" stroke="#000" stroke-width="0.2">a</text>
<text transform="translate(387.10,354.30) rotate(-90)" font-size="10.8" font-weight="normal" stroke="#000" stroke-width="0.2">a</text>
<text transform="translate(395.80,372.60) rotate(-90)" font-size="10.8" font-weight="normal" stroke="#000" stroke-width="0.2">a</text>
<text transform="translate(400.80,379.90) rotate(-90)" font-size="10.8" font-weight="normal" stroke="#000" stroke-width="0.2">a</text>
<text transform="translate(409.30,391.50) rotate(-90)" font-size="10.8" font-weight="normal" stroke="#000" stroke-width="0.2">a</text>
<text transform="translate(426.50,386.00) rotate(-90)" font-size="10.8" font-weight="normal" stroke="#000" stroke-width="0.2">a</text>
<text transform="translate(452.70,379.10) rotate(-90)" font-size="10.8" font-weight="normal" stroke="#000" stroke-width="0.2">a</text>
<text transform="translate(465.40,370.80) rotate(-90)" font-size="10.8" font-weight="normal" stroke="#000" stroke-width="0.2">a</text>
<text transform="translate(477.80,371.10) rotate(-90)" font-size="10.8" font-weight="normal" stroke="#000" stroke-width="0.2">a</text>
<text transform="translate(492.10,367.90) rotate(-90)" font-size="10.8" font-weight="normal" stroke="#000" stroke-width="0.2">a</text>
<text transform="translate(509.20,374.00) rotate(-90)" font-size="10.8" font-weight="normal" stroke="#000" stroke-width="0.2">a</text>
<rect x="56.40" y="658.90" width="8.70" height="155.80" fill="#000000"/>
<rect x="65.74" y="690.60" width="8.70" height="124.10" fill="#a3a3a3"/>
<rect x="75.08" y="692.00" width="8.70" height="122.70" fill="#838383"/>
<rect x="84.42" y="692.80" width="8.70" height="121.90" fill="#d5d5d5"/>
<rect x="93.76" y="694.20" width="8.70" height="120.50" fill="#646464"/>
<rect x="103.10" y="695.40" width="8.70" height="119.30" fill="#a1a1a1"/>
<rect x="112.44" y="695.40" width="8.70" height="119.30" fill="#646464"/>
<rect x="129.00" y="689.90" width="8.70" height="124.80" fill="#000000"/>
<rect x="138.34" y="703.10" width="8.70" height="111.60" fill="#a3a3a3"/>
<rect x="147.68" y="705.50" width="8.70" height="109.20" fill="#838383"/>
<rect x="157.02" y="703.80" width="8.70" height="110.90" fill="#d5d5d5"/>
<rect x="166.36" y="707.40" width="8.70" height="107.30" fill="#646464"/>
<rect x="175.70" y="711.80" width="8.70" height="102.90" fill="#a1a1a1"/>
<rect x="185.04" y="711.80" width="8.70" height="102.90" fill="#646464"/>
<rect x="201.40" y="686.60" width="8.70" height="128.10" fill="#000000"/>
<rect x="210.74" y="718.40" width="8.70" height="96.30" fill="#a3a3a3"/>
<rect x="220.08" y="715.20" width="8.70" height="99.50" fill="#838383"/>
<rect x="229.42" y="717.70" width="8.70" height="97.00" fill="#d5d5d5"/>
<rect x="238.76" y="722.00" width="8.70" height="92.70" fill="#646464"/>
<rect x="248.10" y="730.80" width="8.70" height="83.90" fill="#a1a1a1"/>
<rect x="257.44" y="730.80" width="8.70" height="83.90" fill="#646464"/>
<rect x="274.40" y="683.40" width="8.70" height="131.30" fill="#000000"/>
<rect x="283.74" y="732.70" width="8.70" height="82.00" fill="#a3a3a3"/>
<rect x="293.08" y="726.90" width="8.70" height="87.80" fill="#838383"/>
<rect x="302.42" y="732.30" width="8.70" height="82.40" fill="#d5d5d5"/>
<rect x="311.76" y="739.60" width="8.70" height="75.10" fill="#646464"/>
<rect x="321.10" y="743.20" width="8.70" height="71.50" fill="#a1a1a1"/>
<rect x="330.44" y="743.20" width="8.70" height="71.50" fill="#646464"/>
<rect x="345.70" y="678.70" width="8.70" height="136.00" fill="#000000"/>
<rect x="355.04" y="753.10" width="8.70" height="61.60" fill="#a3a3a3"/>
<rect x="364.38" y="746.10" width="8.70" height="68.60" fill="#838383"/>
<rect x="373.72" y="755.70" width="8.70" height="59.00" fill="#d5d5d5"/>
<rect x="383.06" y="761.90" width="8.70" height="52.80" fill="#646464"/>
<rect x="392.40" y="775.70" width="8.70" height="39.00" fill="#a1a1a1"/>
<rect x="401.74" y="775.70" width="8.70" height="39.00" fill="#646464"/>
<line x1="60.75" y1="659.90" x2="60.75" y2="653.40" stroke="#000" stroke-width="1.4"/>
<line x1="59.25" y1="653.90" x2="62.25" y2="653.90" stroke="#000" stroke-width="1.1"/>
<line x1="70.09" y1="691.60" x2="70.09" y2="689.00" stroke="#000" stroke-width="1.4"/>
<line x1="68.59" y1="689.50" x2="71.59" y2="689.50" stroke="#000" stroke-width="1.1"/>
<line x1="79.43" y1="693.00" x2="79.43" y2="689.10" stroke="#000" stroke-width="1.4"/>
<line x1="77.93" y1="689.60" x2="80.93" y2="689.60" stroke="#000" stroke-width="1.1"/>
<line x1="88.77" y1="693.80" x2="88.77" y2="691.50" stroke="#000" stroke-width="1.4"/>
<line x1="87.27" y1="692.00" x2="90.27" y2="692.00" stroke="#000" stroke-width="1.1"/>
<line x1="98.11" y1="695.20" x2="98.11" y2="693.00" stroke="#000" stroke-width="1.4"/>
<line x1="96.61" y1="693.50" x2="99.61" y2="693.50" stroke="#000" stroke-width="1.1"/>
<line x1="107.45" y1="696.40" x2="107.45" y2="691.00" stroke="#000" stroke-width="1.4"/>
<line x1="105.95" y1="691.50" x2="108.95" y2="691.50" stroke="#000" stroke-width="1.1"/>
<line x1="116.79" y1="696.40" x2="116.79" y2="686.20" stroke="#000" stroke-width="1.4"/>
<line x1="115.29" y1="686.70" x2="118.29" y2="686.70" stroke="#000" stroke-width="1.1"/>
<line x1="133.35" y1="690.90" x2="133.35" y2="683.40" stroke="#000" stroke-width="1.4"/>
<line x1="131.85" y1="683.90" x2="134.85" y2="683.90" stroke="#000" stroke-width="1.1"/>
<line x1="142.69" y1="704.10" x2="142.69" y2="699.40" stroke="#000" stroke-width="1.4"/>
<line x1="141.19" y1="699.90" x2="144.19" y2="699.90" stroke="#000" stroke-width="1.1"/>
<line x1="152.03" y1="706.50" x2="152.03" y2="698.70" stroke="#000" stroke-width="1.4"/>
<line x1="150.53" y1="699.20" x2="153.53" y2="699.20" stroke="#000" stroke-width="1.1"/>
<line x1="161.37" y1="704.80" x2="161.37" y2="702.30" stroke="#000" stroke-width="1.4"/>
<line x1="159.87" y1="702.80" x2="162.87" y2="702.80" stroke="#000" stroke-width="1.1"/>
<line x1="170.71" y1="708.40" x2="170.71" y2="706.00" stroke="#000" stroke-width="1.4"/>
<line x1="169.21" y1="706.50" x2="172.21" y2="706.50" stroke="#000" stroke-width="1.1"/>
<line x1="180.05" y1="712.80" x2="180.05" y2="709.60" stroke="#000" stroke-width="1.4"/>
<line x1="178.55" y1="710.10" x2="181.55" y2="710.10" stroke="#000" stroke-width="1.1"/>
<line x1="189.39" y1="712.80" x2="189.39" y2="709.60" stroke="#000" stroke-width="1.4"/>
<line x1="187.89" y1="710.10" x2="190.89" y2="710.10" stroke="#000" stroke-width="1.1"/>
<line x1="205.75" y1="687.60" x2="205.75" y2="677.50" stroke="#000" stroke-width="1.4"/>
<line x1="204.25" y1="678.00" x2="207.25" y2="678.00" stroke="#000" stroke-width="1.1"/>
<line x1="215.09" y1="719.40" x2="215.09" y2="710.40" stroke="#000" stroke-width="1.4"/>
<line x1="213.59" y1="710.90" x2="216.59" y2="710.90" stroke="#000" stroke-width="1.1"/>
<line x1="224.43" y1="716.20" x2="224.43" y2="714.00" stroke="#000" stroke-width="1.4"/>
<line x1="222.93" y1="714.50" x2="225.93" y2="714.50" stroke="#000" stroke-width="1.1"/>
<line x1="233.77" y1="718.70" x2="233.77" y2="716.50" stroke="#000" stroke-width="1.4"/>
<line x1="232.27" y1="717.00" x2="235.27" y2="717.00" stroke="#000" stroke-width="1.1"/>
<line x1="243.11" y1="723.00" x2="243.11" y2="718.40" stroke="#000" stroke-width="1.4"/>
<line x1="241.61" y1="718.90" x2="244.61" y2="718.90" stroke="#000" stroke-width="1.1"/>
<line x1="252.45" y1="731.80" x2="252.45" y2="729.50" stroke="#000" stroke-width="1.4"/>
<line x1="250.95" y1="730.00" x2="253.95" y2="730.00" stroke="#000" stroke-width="1.1"/>
<line x1="261.79" y1="731.80" x2="261.79" y2="729.50" stroke="#000" stroke-width="1.4"/>
<line x1="260.29" y1="730.00" x2="263.29" y2="730.00" stroke="#000" stroke-width="1.1"/>
<line x1="278.75" y1="684.40" x2="278.75" y2="673.40" stroke="#000" stroke-width="1.4"/>
<line x1="277.25" y1="673.90" x2="280.25" y2="673.90" stroke="#000" stroke-width="1.1"/>
<line x1="288.09" y1="733.70" x2="288.09" y2="729.80" stroke="#000" stroke-width="1.4"/>
<line x1="286.59" y1="730.30" x2="289.59" y2="730.30" stroke="#000" stroke-width="1.1"/>
<line x1="297.43" y1="727.90" x2="297.43" y2="723.50" stroke="#000" stroke-width="1.4"/>
<line x1="295.93" y1="724.00" x2="298.93" y2="724.00" stroke="#000" stroke-width="1.1"/>
<line x1="306.77" y1="733.30" x2="306.77" y2="729.80" stroke="#000" stroke-width="1.4"/>
<line x1="305.27" y1="730.30" x2="308.27" y2="730.30" stroke="#000" stroke-width="1.1"/>
<line x1="316.11" y1="740.60" x2="316.11" y2="736.20" stroke="#000" stroke-width="1.4"/>
<line x1="314.61" y1="736.70" x2="317.61" y2="736.70" stroke="#000" stroke-width="1.1"/>
<line x1="325.45" y1="744.20" x2="325.45" y2="740.00" stroke="#000" stroke-width="1.4"/>
<line x1="323.95" y1="740.50" x2="326.95" y2="740.50" stroke="#000" stroke-width="1.1"/>
<line x1="334.79" y1="744.20" x2="334.79" y2="740.00" stroke="#000" stroke-width="1.4"/>
<line x1="333.29" y1="740.50" x2="336.29" y2="740.50" stroke="#000" stroke-width="1.1"/>
<line x1="350.05" y1="679.70" x2="350.05" y2="664.80" stroke="#000" stroke-width="1.4"/>
<line x1="348.55" y1="665.30" x2="351.55" y2="665.30" stroke="#000" stroke-width="1.1"/>
<line x1="359.39" y1="754.10" x2="359.39" y2="750.20" stroke="#000" stroke-width="1.4"/>
<line x1="357.89" y1="750.70" x2="360.89" y2="750.70" stroke="#000" stroke-width="1.1"/>
<line x1="368.73" y1="747.10" x2="368.73" y2="740.30" stroke="#000" stroke-width="1.4"/>
<line x1="367.23" y1="740.80" x2="370.23" y2="740.80" stroke="#000" stroke-width="1.1"/>
<line x1="378.07" y1="756.70" x2="378.07" y2="751.60" stroke="#000" stroke-width="1.4"/>
<line x1="376.57" y1="752.10" x2="379.57" y2="752.10" stroke="#000" stroke-width="1.1"/>
<line x1="387.41" y1="762.90" x2="387.41" y2="757.20" stroke="#000" stroke-width="1.4"/>
<line x1="385.91" y1="757.70" x2="388.91" y2="757.70" stroke="#000" stroke-width="1.1"/>
<line x1="396.75" y1="776.70" x2="396.75" y2="774.50" stroke="#000" stroke-width="1.4"/>
<line x1="395.25" y1="775.00" x2="398.25" y2="775.00" stroke="#000" stroke-width="1.1"/>
<line x1="406.09" y1="776.70" x2="406.09" y2="774.50" stroke="#000" stroke-width="1.4"/>
<line x1="404.59" y1="775.00" x2="407.59" y2="775.00" stroke="#000" stroke-width="1.1"/>
<line x1="53" y1="644" x2="53" y2="815.5" stroke="#000" stroke-width="1.8"/>
<line x1="46.5" y1="814.7" x2="415.8" y2="814.7" stroke="#000" stroke-width="2"/>
<line x1="46.5" y1="815.00" x2="53" y2="815.00" stroke="#000" stroke-width="1.8"/>
<text x="43.8" y="819.20" font-size="11.8" font-weight="bold" text-anchor="end">0</text>
<line x1="46.5" y1="781.00" x2="53" y2="781.00" stroke="#000" stroke-width="1.8"/>
<text x="43.8" y="785.20" font-size="11.8" font-weight="bold" text-anchor="end">1</text>
<line x1="46.5" y1="747.00" x2="53" y2="747.00" stroke="#000" stroke-width="1.8"/>
<text x="43.8" y="751.20" font-size="11.8" font-weight="bold" text-anchor="end">2</text>
<line x1="46.5" y1="713.00" x2="53" y2="713.00" stroke="#000" stroke-width="1.8"/>
<text x="43.8" y="717.20" font-size="11.8" font-weight="bold" text-anchor="end">3</text>
<line x1="46.5" y1="679.00" x2="53" y2="679.00" stroke="#000" stroke-width="1.8"/>
<text x="43.8" y="683.20" font-size="11.8" font-weight="bold" text-anchor="end">4</text>
<line x1="46.5" y1="645.00" x2="53" y2="645.00" stroke="#000" stroke-width="1.8"/>
<text x="43.8" y="649.20" font-size="11.8" font-weight="bold" text-anchor="end">5</text>
<line x1="88.79" y1="814.7" x2="88.79" y2="821.5" stroke="#000" stroke-width="1.6"/>
<text x="88.79" y="835.7" font-size="12" font-weight="bold" text-anchor="middle">12</text>
<line x1="161.39" y1="814.7" x2="161.39" y2="821.5" stroke="#000" stroke-width="1.6"/>
<text x="161.39" y="835.7" font-size="12" font-weight="bold" text-anchor="middle">16</text>
<line x1="233.79" y1="814.7" x2="233.79" y2="821.5" stroke="#000" stroke-width="1.6"/>
<text x="233.79" y="835.7" font-size="12" font-weight="bold" text-anchor="middle">20</text>
<line x1="306.79" y1="814.7" x2="306.79" y2="821.5" stroke="#000" stroke-width="1.6"/>
<text x="306.79" y="835.7" font-size="12" font-weight="bold" text-anchor="middle">24</text>
<line x1="378.09" y1="814.7" x2="378.09" y2="821.5" stroke="#000" stroke-width="1.6"/>
<text x="378.09" y="835.7" font-size="12" font-weight="bold" text-anchor="middle">28</text>
<text x="234.2" y="857.8" font-size="12" font-weight="bold" text-anchor="middle">Days</text>
<text x="134.7" y="622.8" font-size="14.4" font-weight="bold" text-anchor="start" textLength="198.3" lengthAdjust="spacingAndGlyphs">Effect on arthritic scoring</text>
<text transform="translate(32.1,771.6) rotate(-90)" font-size="13" font-weight="bold" textLength="84" lengthAdjust="spacingAndGlyphs">Arthritic score</text>
<text transform="translate(74.00,679.60) rotate(-90)" font-size="8.3" font-weight="normal" stroke="#000" stroke-width="0.2">a</text>
<text transform="translate(83.50,685.50) rotate(-90)" font-size="8.3" font-weight="normal" stroke="#000" stroke-width="0.2">a</text>
<text transform="translate(90.80,680.40) rotate(-90)" font-size="8.3" font-weight="normal" stroke="#000" stroke-width="0.2">a</text>
<text transform="translate(104.70,689.90) rotate(-90)" font-size="8.3" font-weight="normal" stroke="#000" stroke-width="0.2">a</text>
<text transform="translate(113.40,688.40) rotate(-90)" font-size="8.3" font-weight="normal" stroke="#000" stroke-width="0.2">a</text>
<text transform="translate(120.70,686.20) rotate(-90)" font-size="8.3" font-weight="normal" stroke="#000" stroke-width="0.2">a</text>
<text transform="translate(151.70,691.40) rotate(-90)" font-size="8.3" font-weight="normal" stroke="#000" stroke-width="0.2">a</text>
<text transform="translate(157.70,693.30) rotate(-90)" font-size="8.3" font-weight="normal" stroke="#000" stroke-width="0.2">a</text>
<text transform="translate(164.20,697.70) rotate(-90)" font-size="8.3" font-weight="normal" stroke="#000" stroke-width="0.2">a</text>
<text transform="translate(173.70,695.80) rotate(-90)" font-size="8.3" font-weight="normal" stroke="#000" stroke-width="0.2">a</text>
<text transform="translate(183.90,695.00) rotate(-90)" font-size="8.3" font-weight="normal" stroke="#000" stroke-width="0.2">a</text>
<text transform="translate(191.20,703.80) rotate(-90)" font-size="8.3" font-weight="normal" stroke="#000" stroke-width="0.2">a</text>
<text transform="translate(214.80,700.90) rotate(-90)" font-size="8.3" font-weight="normal" stroke="#000" stroke-width="0.2">a</text>
<text transform="translate(230.60,706.00) rotate(-90)" font-size="8.3" font-weight="normal" stroke="#000" stroke-width="0.2">a</text>
<text transform="translate(242.00,703.00) rotate(-90)" font-size="8.3" font-weight="normal" stroke="#000" stroke-width="0.2">a</text>
<text transform="translate(252.20,703.00) rotate(-90)" font-size="8.3" font-weight="normal" stroke="#000" stroke-width="0.2">a</text>
<text transform="translate(257.60,715.20) rotate(-90)" font-size="8.3" font-weight="normal" stroke="#000" stroke-width="0.2">a</text>
<text transform="translate(267.40,712.30) rotate(-90)" font-size="8.3" font-weight="normal" stroke="#000" stroke-width="0.2">a</text>
<text transform="translate(290.70,723.50) rotate(-90)" font-size="8.3" font-weight="normal" stroke="#000" stroke-width="0.2">a</text>
<text transform="translate(298.00,707.40) rotate(-90)" font-size="8.3" font-weight="normal" stroke="#000" stroke-width="0.2">a</text>
<text transform="translate(307.00,717.70) rotate(-90)" font-size="8.3" font-weight="normal" stroke="#000" stroke-width="0.2">a</text>
<text transform="translate(320.20,723.50) rotate(-90)" font-size="8.3" font-weight="normal" stroke="#000" stroke-width="0.2">a</text>
<text transform="translate(328.20,732.30) rotate(-90)" font-size="8.3" font-weight="normal" stroke="#000" stroke-width="0.2">a</text>
<text transform="translate(336.20,722.00) rotate(-90)" font-size="8.3" font-weight="normal" stroke="#000" stroke-width="0.2">a</text>
<text transform="translate(342.80,731.50) rotate(-90)" font-size="8.3" font-weight="normal" stroke="#000" stroke-width="0.2">a</text>
<text transform="translate(361.00,734.20) rotate(-90)" font-size="8.3" font-weight="normal" stroke="#000" stroke-width="0.2">a</text>
<text transform="translate(376.20,729.00) rotate(-90)" font-size="8.3" font-weight="normal" stroke="#000" stroke-width="0.2">a</text>
<text transform="translate(379.90,747.50) rotate(-90)" font-size="8.3" font-weight="normal" stroke="#000" stroke-width="0.2">a</text>
<text transform="translate(389.10,740.30) rotate(-90)" font-size="8.3" font-weight="normal" stroke="#000" stroke-width="0.2">a</text>
<text transform="translate(397.90,749.60) rotate(-90)" font-size="8.3" font-weight="normal" stroke="#000" stroke-width="0.2">a</text>
<text transform="translate(400.00,764.00) rotate(-90)" font-size="8.3" font-weight="normal" stroke="#000" stroke-width="0.2">a</text>
<text transform="translate(414.40,766.00) rotate(-90)" font-size="8.3" font-weight="normal" stroke="#000" stroke-width="0.2">a</text>
<rect x="452.4" y="651" width="20.6" height="11" rx="1.6" fill="#000000"/>
<text x="483.4" y="661.4" font-size="13.8" font-weight="bold" textLength="102.3" lengthAdjust="spacing">Disease control</text>
<rect x="452.4" y="674.2" width="20.6" height="10.5" rx="1.6" fill="#a3a3a3"/>
<text x="483.4" y="683.9" font-size="13.8" font-weight="bold" textLength="114" lengthAdjust="spacing">Standard Control</text>
<rect x="452.4" y="697.2" width="20.6" height="12" rx="1.6" fill="#838383"/>
<text x="482.5" y="708.5" font-family='"Liberation Serif", serif' font-size="13.80">&#946;</text>
<text x="492.20" y="708.5" font-size="13.8" font-weight="bold" textLength="192.10" lengthAdjust="spacing">-Caryophyllene oxide 1mg/kg</text>
<rect x="452.4" y="728" width="20.6" height="13" rx="1.6" fill="#d5d5d5"/>
<text x="482.5" y="733.2" font-family='"Liberation Serif", serif' font-size="13.80">&#946;</text>
<text x="492.20" y="733.2" font-size="13.8" font-weight="bold" textLength="139.40" lengthAdjust="spacing">-Caryophyllene oxide</text>
<text x="482.7" y="748.3" font-size="13.8" font-weight="bold" textLength="54.3" lengthAdjust="spacing">10mg/kg</text>
<rect x="452.4" y="768.6" width="20.6" height="13" rx="1.6" fill="#646464"/>
<text x="482.5" y="772.8" font-family='"Liberation Serif", serif' font-size="13.80">&#946;</text>
<text x="492.20" y="772.8" font-size="13.8" font-weight="bold" textLength="139.40" lengthAdjust="spacing">-Caryophyllene oxide</text>
<text x="482.7" y="788.2" font-size="13.8" font-weight="bold" textLength="54.3" lengthAdjust="spacing">30mg/kg</text>
<rect x="452.4" y="810" width="20.6" height="12.6" rx="1.6" fill="#a1a1a1"/>
<text x="482.5" y="813.4" font-family='"Liberation Serif", serif' font-size="13.80">&#946;</text>
<text x="492.20" y="813.4" font-size="13.8" font-weight="bold" textLength="139.40" lengthAdjust="spacing">-Caryophyllene oxide</text>
<text x="482.7" y="828.6" font-size="13.8" font-weight="bold" textLength="93" lengthAdjust="spacing">30mg/kg+ Mtx</text>
<rect x="452.4" y="850.8" width="20.6" height="12.4" rx="1.6" fill="#646464"/>
<text x="482.5" y="853.7" font-family='"Liberation Serif", serif' font-size="13.80">&#946;</text>
<text x="492.20" y="853.7" font-size="13.8" font-weight="bold" textLength="139.40" lengthAdjust="spacing">-Caryophyllene oxide</text>
<text x="482.7" y="869.5" font-size="13.8" font-weight="bold" textLength="93" lengthAdjust="spacing">30mg/kg+ Mtx</text>
</svg>
</body></html>
